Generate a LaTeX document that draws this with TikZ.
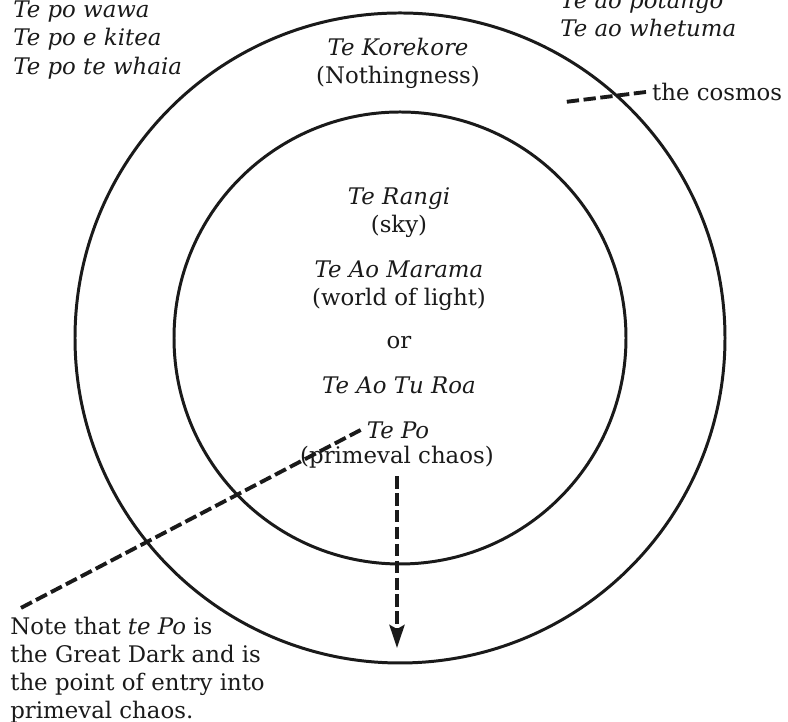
\documentclass[tikz,border=0pt]{standalone}
\usepackage{fontspec}
\setmainfont{DejaVu Serif}
\usepackage{tikz}
\usetikzlibrary{arrows.meta,positioning}
\definecolor{ink}{HTML}{1A1A1A}
\tikzset{
  ring/.style={draw=ink,line width=1.7pt},
  txt/.style={text=ink,font=\fontsize{13}{16}\selectfont,align=center,inner sep=0pt},
  maori/.style={txt,font=\fontsize{13}{16}\selectfont\itshape},
  dashline/.style={draw=ink,line width=2.2pt,dash pattern=on 7pt off 2.6pt},
  dasharr/.style={dashline,-{Stealth[length=0.46cm,width=0.3cm,inset=0.08cm]}}
}

\begin{document}
\begin{tikzpicture}[x=0.02cm,y=0.02cm]
  \clip (0,0) rectangle (788,722);
  % the two rings
  \coordinate (hub) at (400,384);
  \draw[ring] (hub) circle [radius=325];
  \draw[ring] (hub) circle [radius=226];

  % outside the rings
  \node[maori,align=left,anchor=west] (nightList) at (13,682) {Te po wawa\\Te po e kitea\\Te po te whaia};
  \node[maori,align=left,anchor=west] (dayList) at (560,708) {Te ao potango\\Te ao whetuma};
  \node[txt] (korekore) at (398,659) {\textit{Te Korekore}\\(Nothingness)};
  \node[txt,anchor=west,inner sep=0.33em] (cosmos) at (646,630) {the cosmos};
  \coordinate (cosmosTail) at (565,620);
  \draw[dashline] (cosmos.west) -- (cosmosTail);

  % inner ring
  \node[txt] (rangi) at (399,509) {\textit{Te Rangi}\\(sky)};
  \node[txt] (marama) at (399,436) {\textit{Te Ao Marama}\\(world of light)};
  \node[txt] (orword) at (399,379) {or};
  \node[txt] (turoa) at (399,337) {\textit{Te Ao Tu Roa}};
  \node[txt,inner sep=0.33em] (tePo) at (398,292) {\textit{Te Po}};
  \node[txt] (chaos) at (397,265) {(primeval chaos)};

  % note and leaders
  \node[txt,align=left,anchor=west] (note) at (10,52)
    {Note that \textit{te Po} is\\the Great Dark and is\\the point of entry into\\primeval chaos.};
  \draw[dashline] (tePo.west) -- ([xshift=0.2cm,yshift=0.16cm]note.north west);
  \coordinate (chaosDeep) at (397,74);
  \draw[dasharr] ([yshift=-0.16cm]chaos.south) -- (chaosDeep);
\end{tikzpicture}
\end{document}
